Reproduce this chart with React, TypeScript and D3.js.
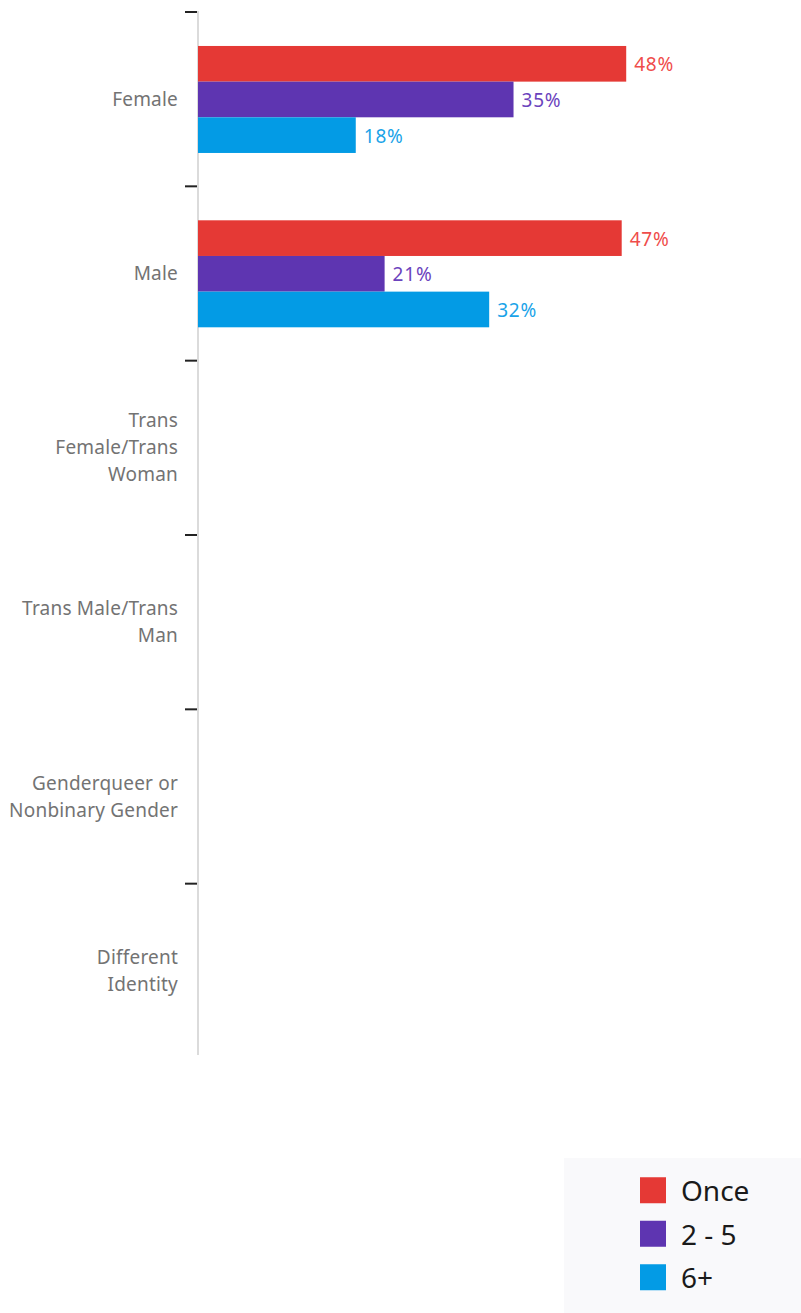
import React from "react";
import * as d3 from "d3";

const categories = [
  "Female",
  "Male",
  "Trans\nFemale/Trans\nWoman",
  "Trans Male/Trans\nMan",
  "Genderqueer or\nNonbinary Gender",
  "Different\nIdentity",
];
const seriesNames = ["Once", "2 - 5", "6+"];
const onceValues: (number | null)[] = [47.5, 47.0, null, null, null, null];
const twoToFiveValues: (number | null)[] = [35.0, 20.7, null, null, null, null];
const sixPlusValues: (number | null)[] = [17.5, 32.3, null, null, null, null];
const seriesColors = ["#e53935", "#5e35b1", "#039be5"];
const labelColors = ["#ef4c4a", "#6b43bd", "#1aa3e8"];

const W = 801;
const H = 1313;

export default function App() {
  const seriesValues = [onceValues, twoToFiveValues, sixPlusValues];
  const y = d3.scaleBand<string>().domain(categories).range([11, 1057]).paddingInner(0).paddingOuter(0);
  const inner = d3
    .scaleBand<string>()
    .domain(seriesNames)
    .range([1.3, y.bandwidth() + 1.3])
    .paddingInner(0)
    .paddingOuter(0.944);
  const x = d3.scaleLinear().domain([0, 100]).range([198, 1099.5]);
  const legendY = d3.scaleBand<string>().domain(seriesNames).range([1168.5, 1299]);
  const font = "'Noto Sans', sans-serif";

  return (
    <svg
      width={W}
      height={H}
      style={{ position: "absolute", left: 0, top: 0, display: "block", background: "#fff" }}
    >
      {/* axis line */}
      <line x1={198} x2={198} y1={11} y2={1055} stroke="#cfcfcf" strokeWidth={1.5} />
      {categories.map((c) => (
        <line key={"t" + c} x1={185} x2={197} y1={y(c)! + 1} y2={y(c)! + 1} stroke="#222" strokeWidth={2} />
      ))}
      {/* category labels */}
      {categories.map((c) => {
        const lines = c.split("\n");
        const cy = y(c)! + y.bandwidth() / 2 + 1;
        const lh = 27;
        return (
          <text key={"l" + c} x={178} textAnchor="end" fontFamily={font} fontSize={19} fill="#737373" letterSpacing={0.2}>
            {lines.map((ln, i) => (
              <tspan key={i} x={178} y={cy + (i - (lines.length - 1) / 2) * lh} dy="0.35em">
                {ln}
              </tspan>
            ))}
          </text>
        );
      })}
      {/* bars */}
      {categories.map((c, ci) =>
        seriesNames.map((s, si) => {
          const v = seriesValues[si][ci];
          if (v == null) return null;
          const by = y(c)! + inner(s)!;
          return (
            <g key={c + s}>
              <rect x={x(0)} y={by} width={x(v) - x(0)} height={inner.bandwidth()} fill={seriesColors[si]} />
              <text
                x={x(v) + 8}
                y={by + inner.bandwidth() / 2 + 1}
                dy="0.35em"
                fontFamily={font}
                fontSize={19}
                letterSpacing={0.8}
                fill={labelColors[si]}
              >
                {Math.round(v) + "%"}
              </text>
            </g>
          );
        })
      )}
      {/* legend */}
      <rect x={564} y={1158} width={237} height={155} fill="#f9f9fb" />
      {seriesNames.map((s, si) => {
        const cy = legendY(s)! + legendY.bandwidth() / 2;
        return (
          <g key={"lg" + s}>
            <rect x={640} y={cy - 13} width={26} height={26} fill={seriesColors[si]} />
            <text x={681} y={cy + 1} dy="0.36em" fontFamily={font} fontSize={28} fill="#1a1a1a">
              {s}
            </text>
          </g>
        );
      })}
    </svg>
  );
}
